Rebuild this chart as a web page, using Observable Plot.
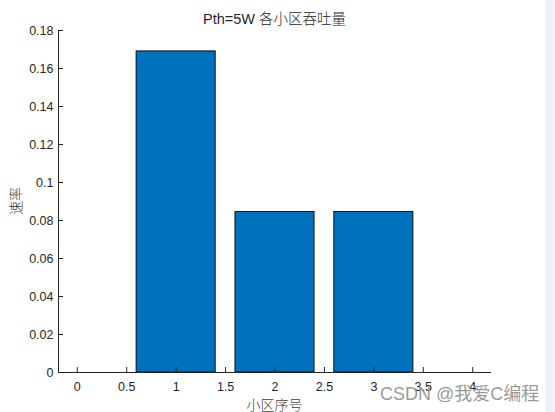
<!DOCTYPE html>
<html>
<head>
<meta charset="utf-8">
<script src="https://cdn.jsdelivr.net/npm/d3@7"></script>
<script src="https://cdn.jsdelivr.net/npm/@observablehq/plot@0.6"></script>
<style>
  html, body { margin: 0; padding: 0; background: #fff; }
  #wrap { position: relative; width: 555px; height: 412px; overflow: hidden; font-family: Arial, "Liberation Sans", Helvetica, sans-serif; }
  #strip { position: absolute; left: 545px; top: 0; width: 10px; height: 412px; background: #eef2f9; }
  .lbl { position: absolute; color: #262626; white-space: nowrap; }
  #title { left: 0; width: 549px; top: 9px; text-align: center; font-size: 14.5px; line-height: 18px; }
  #title .cjk { font-family: "Noto Sans CJK SC", sans-serif; font-weight: 300; }
  #xlabel { left: 0; width: 549px; top: 397px; text-align: center; font-size: 14px; font-family: "Noto Sans CJK SC", sans-serif; font-weight: 300; line-height: 15px; color: #404040; }
  #ylabel { left: 15px; top: 201px; transform: translate(-50%, -50%) rotate(-90deg); font-size: 14px; font-family: "Noto Sans CJK SC", sans-serif; font-weight: 300; color: #404040; }
  #wm { left: 380px; top: 383px; font-size: 18px; line-height: 22px; color: #9a9a9a; font-family: Arial, "Noto Sans CJK SC", sans-serif; }
</style>
</head>
<body>
<div id="wrap">
  <div id="chart"></div>
  <div id="strip"></div>
  <div id="title" class="lbl">Pth=5W <span class="cjk">各小区吞吐量</span></div>
  <div id="xlabel" class="lbl">小区序号</div>
  <div id="ylabel" class="lbl">速率</div>
  <div id="wm" class="lbl">CSDN @我爱C编程</div>
</div>
<script>
const cells = [1, 2, 3];
const rates = [0.1690, 0.0845, 0.0845];
const xTicks = [0, 0.5, 1, 1.5, 2, 2.5, 3, 3.5, 4];
const yTicks = [0, 0.02, 0.04, 0.06, 0.08, 0.1, 0.12, 0.14, 0.16, 0.18];
const xDomain = [-0.19, 4.19];
const yDomain = [0, 0.18];
const barWidth = 0.8;

const data = cells.map((c, i) => ({cell: c, rate: rates[i]}));
const fmt = d => String(+d.toFixed(2));

const chart = Plot.plot({
  width: 555,
  height: 412,
  marginLeft: 58,
  marginRight: 64,
  marginTop: 30,
  marginBottom: 40,
  style: {fontFamily: "Arial, 'Liberation Sans', Helvetica, sans-serif", fontSize: "12.5px", color: "#262626", background: "transparent"},
  x: {domain: xDomain},
  y: {domain: yDomain},
  marks: [
    Plot.rectY(data, {x1: d => d.cell - barWidth / 2, x2: d => d.cell + barWidth / 2, y1: 0, y2: "rate", fill: "#0072BD", stroke: "#000", strokeWidth: 0.9}),
    Plot.axisX({ticks: xTicks, tickSize: -5, tickPadding: 15, tickFormat: fmt, label: null, stroke: "#262626", fill: "#262626"}),
    Plot.axisY({ticks: yTicks, tickSize: -5, tickPadding: 10, tickFormat: fmt, label: null, stroke: "#262626", fill: "#262626"}),
    Plot.ruleY([0], {stroke: "#262626"}),
    Plot.ruleX([xDomain[0]], {stroke: "#262626"})
  ]
});
document.getElementById("chart").appendChild(chart);
</script>
</body>
</html>
